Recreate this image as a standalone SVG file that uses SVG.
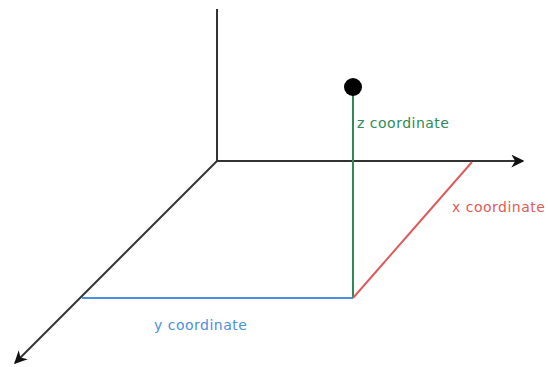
<svg xmlns="http://www.w3.org/2000/svg" width="548" height="367" viewBox="0 0 548 367">
<defs>
<style>
.axis{stroke:#333;stroke-width:2;fill:none}
.lbl{font-family:"DejaVu Sans",Verdana,sans-serif;font-size:14px;letter-spacing:0.5px}
</style>
<marker id="arr" viewBox="0 0 10 10" refX="9" refY="5" markerWidth="6.5" markerHeight="6.5" orient="auto" markerUnits="strokeWidth">
<path d="M0,0 L10,5 L0,10 L3,5 Z" fill="#111"/>
</marker>
</defs>
<rect width="548" height="367" fill="#fff"/>
<g id="connectors">
<line class="axis" x1="217" y1="9" x2="217" y2="161"/>
<line class="axis" x1="216" y1="161" x2="523" y2="161" marker-end="url(#arr)"/>
<line class="axis" x1="217" y1="161" x2="15" y2="363" marker-end="url(#arr)"/>
<line x1="82" y1="298" x2="353" y2="298" stroke="#4a90e2" stroke-width="2"/>
<line x1="353" y1="298" x2="353" y2="90" stroke="#2e8b57" stroke-width="2"/>
<line x1="353" y1="298" x2="472" y2="162" stroke="#e05a5a" stroke-width="2"/>
</g>
<g id="point"><circle cx="353" cy="87" r="9" fill="#000"/></g>
<g id="z-label"><text class="lbl" x="357" y="128" fill="#2e8b57">z coordinate</text></g>
<g id="x-label"><text class="lbl" x="452" y="212" fill="#e05a5a">x coordinate</text></g>
<g id="y-label"><text class="lbl" x="154" y="330" fill="#4a90e2">y coordinate</text></g>
</svg>
